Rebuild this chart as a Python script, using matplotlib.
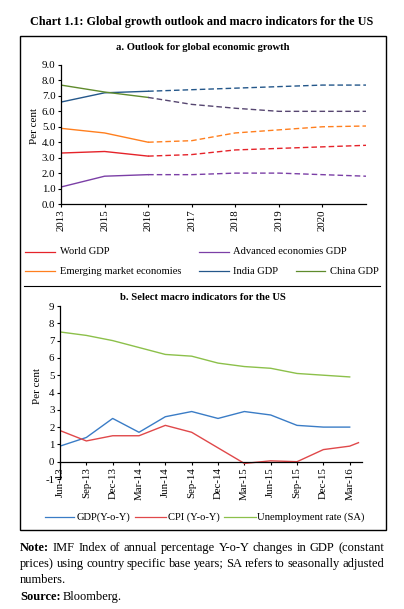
import matplotlib
matplotlib.use('Agg')
import matplotlib.pyplot as plt
from matplotlib.lines import Line2D
from matplotlib.patches import Rectangle
import numpy as np

plt.rcParams['font.family'] = ['Liberation Serif', 'DejaVu Serif']
plt.rcParams['axes.unicode_minus'] = False

W, H = 404, 609

# panel a: outlook for global growth (solid to 2016, projection dashed after)
years = ['2013', '2015', '2016', '2017', '2018', '2019', '2020', '2021']
world_gdp = [3.3, 3.4, 3.1, 3.2, 3.5, 3.6, 3.7, 3.8]
adv_gdp = [1.1, 1.8, 1.9, 1.9, 2.0, 2.0, 1.9, 1.8]
eme_gdp = [4.9, 4.6, 4.0, 4.1, 4.6, 4.8, 5.0, 5.05]
india_gdp = [6.6, 7.2, 7.3, 7.4, 7.5, 7.6, 7.7, 7.7]
china_gdp = [7.7, 7.25, 6.9, 6.45, 6.2, 6.0, 6.0, 6.0]
year_labels = ['2013', '2015', '2016', '2017', '2018', '2019', '2020']

# panel b: US macro indicators (quarterly, CPI has one extra month)
quarters = ['Jun-13', 'Sep-13', 'Dec-13', 'Mar-14', 'Jun-14', 'Sep-14', 'Dec-14',
            'Mar-15', 'Jun-15', 'Sep-15', 'Dec-15', 'Mar-16']
us_gdp = [0.9, 1.4, 2.5, 1.7, 2.6, 2.9, 2.5, 2.9, 2.7, 2.1, 2.0, 2.0]
us_cpi = [1.8, 1.2, 1.5, 1.5, 2.1, 1.7, 0.8, -0.1, 0.05, 0.0, 0.7, 0.9, 1.1]
us_unemp = [7.5, 7.3, 7.0, 6.6, 6.2, 6.1, 5.7, 5.5, 5.4, 5.1, 5.0, 4.9]

c_world = '#e5232a'
c_adv = '#7b3fa6'
c_eme = '#ff7f1e'
c_india = '#24578a'
c_china = '#5f8b2c'
c_china_proj = '#564670'
c_gdp = '#3a7cc6'
c_cpi = '#e0484a'
c_unemp = '#8cc04a'

TICK_FS = 7.8
LEG_FS = 7.6


def fx(px):
    return px / W


def fy(py):
    return 1 - py / H


fig = plt.figure(figsize=(W / 100, H / 100), dpi=100)

fig.text(fx(202), fy(22), 'Chart 1.1: Global growth outlook and macro indicators for the US',
         ha='center', va='center', fontsize=8.7, fontweight='bold')
fig.add_artist(Rectangle((fx(19.5), fy(530)), fx(366), 494 / H, transform=fig.transFigure,
                         fill=False, lw=1.0, ec='black'))
fig.add_artist(Line2D([fx(24), fx(380)], [fy(286), fy(286)], transform=fig.transFigure,
                      lw=0.8, color='black'))
fig.text(fx(203), fy(48), 'a. Outlook for global economic growth', ha='center', va='center',
         fontsize=7.7, fontweight='bold')
fig.text(fx(203), fy(297), 'b. Select macro indicators for the US', ha='center', va='center',
         fontsize=7.7, fontweight='bold')

# ---- panel a
ax1 = fig.add_axes([fx(61), fy(204), fx(305), (204 - 65) / H])
x = np.arange(len(years))
dash = (0, (4, 2.2))
for vals, col, pcol in [(world_gdp, c_world, c_world), (adv_gdp, c_adv, c_adv),
                        (eme_gdp, c_eme, c_eme), (india_gdp, c_india, c_india),
                        (china_gdp, c_china, c_china_proj)]:
    ax1.plot(x[:3], vals[:3], color=col, lw=1.0)
    ax1.plot(x[2:], vals[2:], color=pcol, lw=1.0, ls=dash)
ax1.set_xlim(0, 7)
ax1.set_ylim(0, 9)
ax1.set_yticks(np.arange(0, 9.1, 1.0))
ax1.set_yticklabels(['%.1f' % v for v in np.arange(0, 9.1, 1.0)])
ax1.set_xticks(x[:7])
ax1.set_xticklabels(year_labels)
ax1.set_ylabel('Per cent', fontsize=8)
ax1.yaxis.set_label_coords(-0.073, 0.56)

# ---- panel b
ax2 = fig.add_axes([fx(60), fy(479), fx(302), (479 - 306) / H])
ax2.spines['bottom'].set_position(('data', 0))
m = np.arange(len(quarters)) * 3
m_cpi = np.append(m, 34)
ax2.plot(m, us_gdp, color=c_gdp, lw=1.0)
ax2.plot(m_cpi, us_cpi, color=c_cpi, lw=1.0)
ax2.plot(m, us_unemp, color=c_unemp, lw=1.0)
ax2.set_xlim(0, 34.4)
ax2.set_ylim(-1, 9)
ax2.set_yticks(range(-1, 10))
ax2.set_xticks(m)
ax2.set_xticklabels(quarters)
ax2.set_ylabel('Per cent', fontsize=8)
ax2.yaxis.set_label_coords(-0.06, 0.54)

for ax in (ax1, ax2):
    for s in ('top', 'right'):
        ax.spines[s].set_visible(False)
    ax.spines['left'].set_linewidth(0.9)
    ax.spines['bottom'].set_linewidth(0.9)
    ax.tick_params(direction='out', length=2.5, width=0.8, labelsize=TICK_FS, pad=1.5)
    ax.tick_params(axis='x', labelrotation=90)


# legend keys
def key(x0, y, x1, xt, color, label):
    fig.add_artist(Line2D([fx(x0), fx(x1)], [fy(y), fy(y)], transform=fig.transFigure,
                          color=color, lw=0.9))
    fig.text(fx(xt), fy(y), label, ha='left', va='center', fontsize=LEG_FS)


key(25, 252, 55, 60, c_world, 'World GDP')
key(199, 252, 229, 233, c_adv, 'Advanced economies GDP')
key(25, 271, 55, 60, c_eme, 'Emerging market economies')
key(199, 271, 229, 233, c_india, 'India GDP')
key(296, 271, 325, 330, c_china, 'China GDP')

key(45, 517, 74, 77, c_gdp, 'GDP(Y-o-Y)')
key(135, 517, 166, 168, c_cpi, 'CPI (Y-o-Y)')
key(224, 517, 256, 257, c_unemp, 'Unemployment rate (SA)')

# note, justified
note_lines = [
    (['Note:'] + 'IMF Index of annual percentage Y-o-Y changes in GDP (constant'.split(), True, 548),
    ('prices) using country specific base years; SA refers to seasonally adjusted'.split(), True, 564),
    ('numbers.'.split(), False, 580),
    (['Source:', 'Bloomberg.'], False, 597),
]
fig.canvas.draw()
renderer = fig.canvas.get_renderer()
left, right = 20, 384
for words, justify, y in note_lines:
    items = []
    for i, w in enumerate(words):
        bold = w in ('Note:', 'Source:')
        t = fig.text(0, fy(y), w, ha='left', va='center', fontsize=9.0,
                     fontweight='bold' if bold else 'normal')
        items.append((t, t.get_window_extent(renderer).width))
    total = sum(wd for _, wd in items)
    if justify:
        gap = (right - left - total) / (len(items) - 1)
    else:
        gap = 2.5
    pos = left
    for t, wd in items:
        t.set_x(fx(pos))
        pos += wd + gap

fig.savefig('out.png', dpi=100)
